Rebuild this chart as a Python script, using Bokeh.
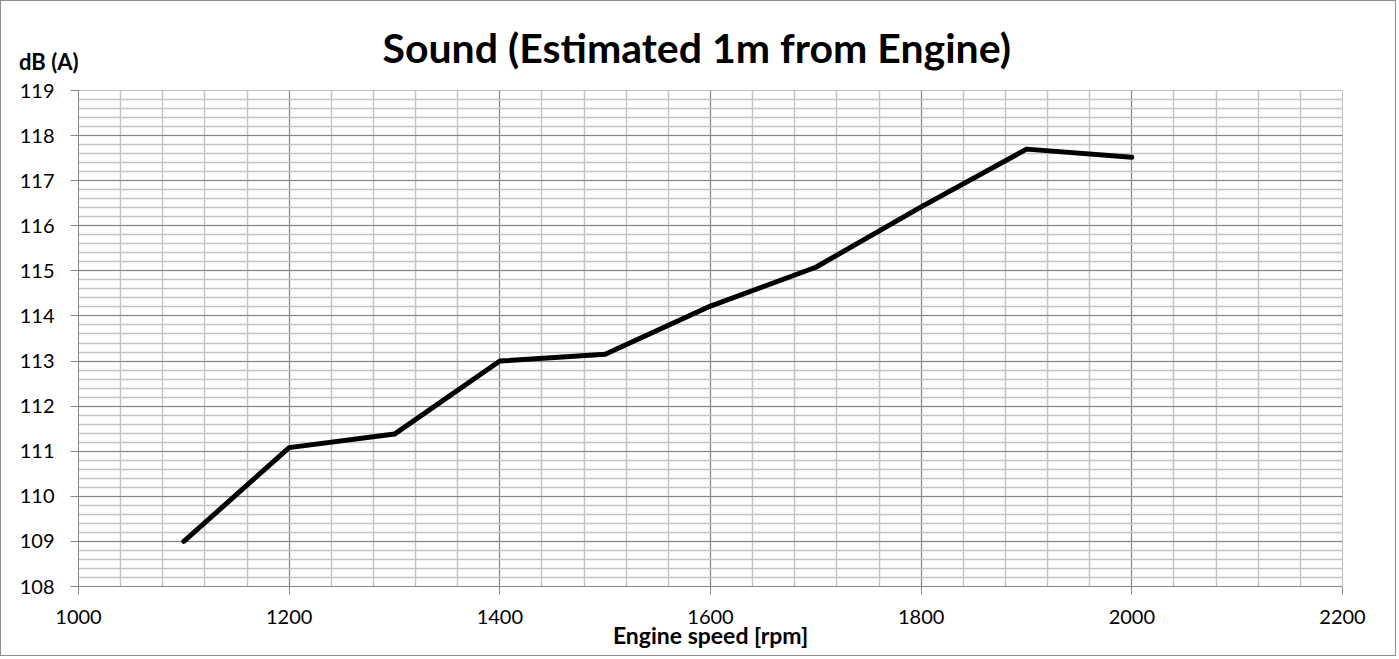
from bokeh.plotting import figure
from bokeh.models import SingleIntervalTicker, Range1d, Title, Div
from bokeh.layouts import column
from bokeh.embed import file_html
from bokeh.resources import INLINE

rpm = [1100, 1200, 1300, 1400, 1500, 1600, 1700, 1800, 1900, 2000]
db = [109.0, 111.08, 111.38, 113.0, 113.15, 114.22, 115.08, 116.42, 117.7, 117.52]

FONT = "Lato"

p = figure(width=1396, height=656, output_backend="svg", toolbar_location=None,
           x_range=Range1d(1000, 2200), y_range=Range1d(108, 119), title=None,
           min_border_left=77, min_border_right=55, min_border_top=89, min_border_bottom=71)
p.styles = {"border": "1px solid #8c8c8c", "box-sizing": "border-box"}
p.outline_line_color = "#bfbfbf"

p.add_layout(Title(text="Sound (Estimated 1m from Engine)", align="left", offset=304,
                   standoff=37, text_font=FONT, text_font_style="bold",
                   text_font_size="41px", text_color="black"), "above")

p.xaxis.ticker = SingleIntervalTicker(interval=200, num_minor_ticks=5)
p.yaxis.ticker = SingleIntervalTicker(interval=1, num_minor_ticks=5)

for ax in (p.xaxis[0], p.yaxis[0]):
    ax.axis_line_color = "#868686"
    ax.major_tick_line_color = "#868686"
    ax.major_tick_out = 8
    ax.major_tick_in = 0
    ax.minor_tick_line_color = None
    ax.major_label_text_font = FONT
    ax.major_label_text_font_size = "20px"
    ax.major_label_text_color = "#000000"
p.xaxis.major_label_standoff = 15
p.yaxis.major_label_standoff = 16

p.xaxis.axis_label = "Engine speed [rpm]"
p.xaxis.axis_label_text_font = FONT
p.xaxis.axis_label_text_font_style = "bold"
p.xaxis.axis_label_text_font_size = "23px"
p.xaxis.axis_label_text_color = "black"
p.xaxis.axis_label_standoff = -6

for g in (p.xgrid[0], p.ygrid[0]):
    g.grid_line_color = "#868686"
    g.grid_line_width = 1
    g.minor_grid_line_color = "#c4c4c4"
    g.minor_grid_line_width = 1.5

p.line(rpm, db, line_color="black", line_width=5, line_join="round", line_cap="round")

ylabel = Div(text="dB (A)", width=90, height=26,
             styles={"position": "absolute", "left": "14px", "top": "44px",
                     "font-family": FONT, "font-weight": "bold", "font-size": "22px",
                     "color": "black", "line-height": "1.2", "z-index": "10"})

layout = column(p, ylabel)
open("out.html", "w").write(file_html(layout, INLINE))
